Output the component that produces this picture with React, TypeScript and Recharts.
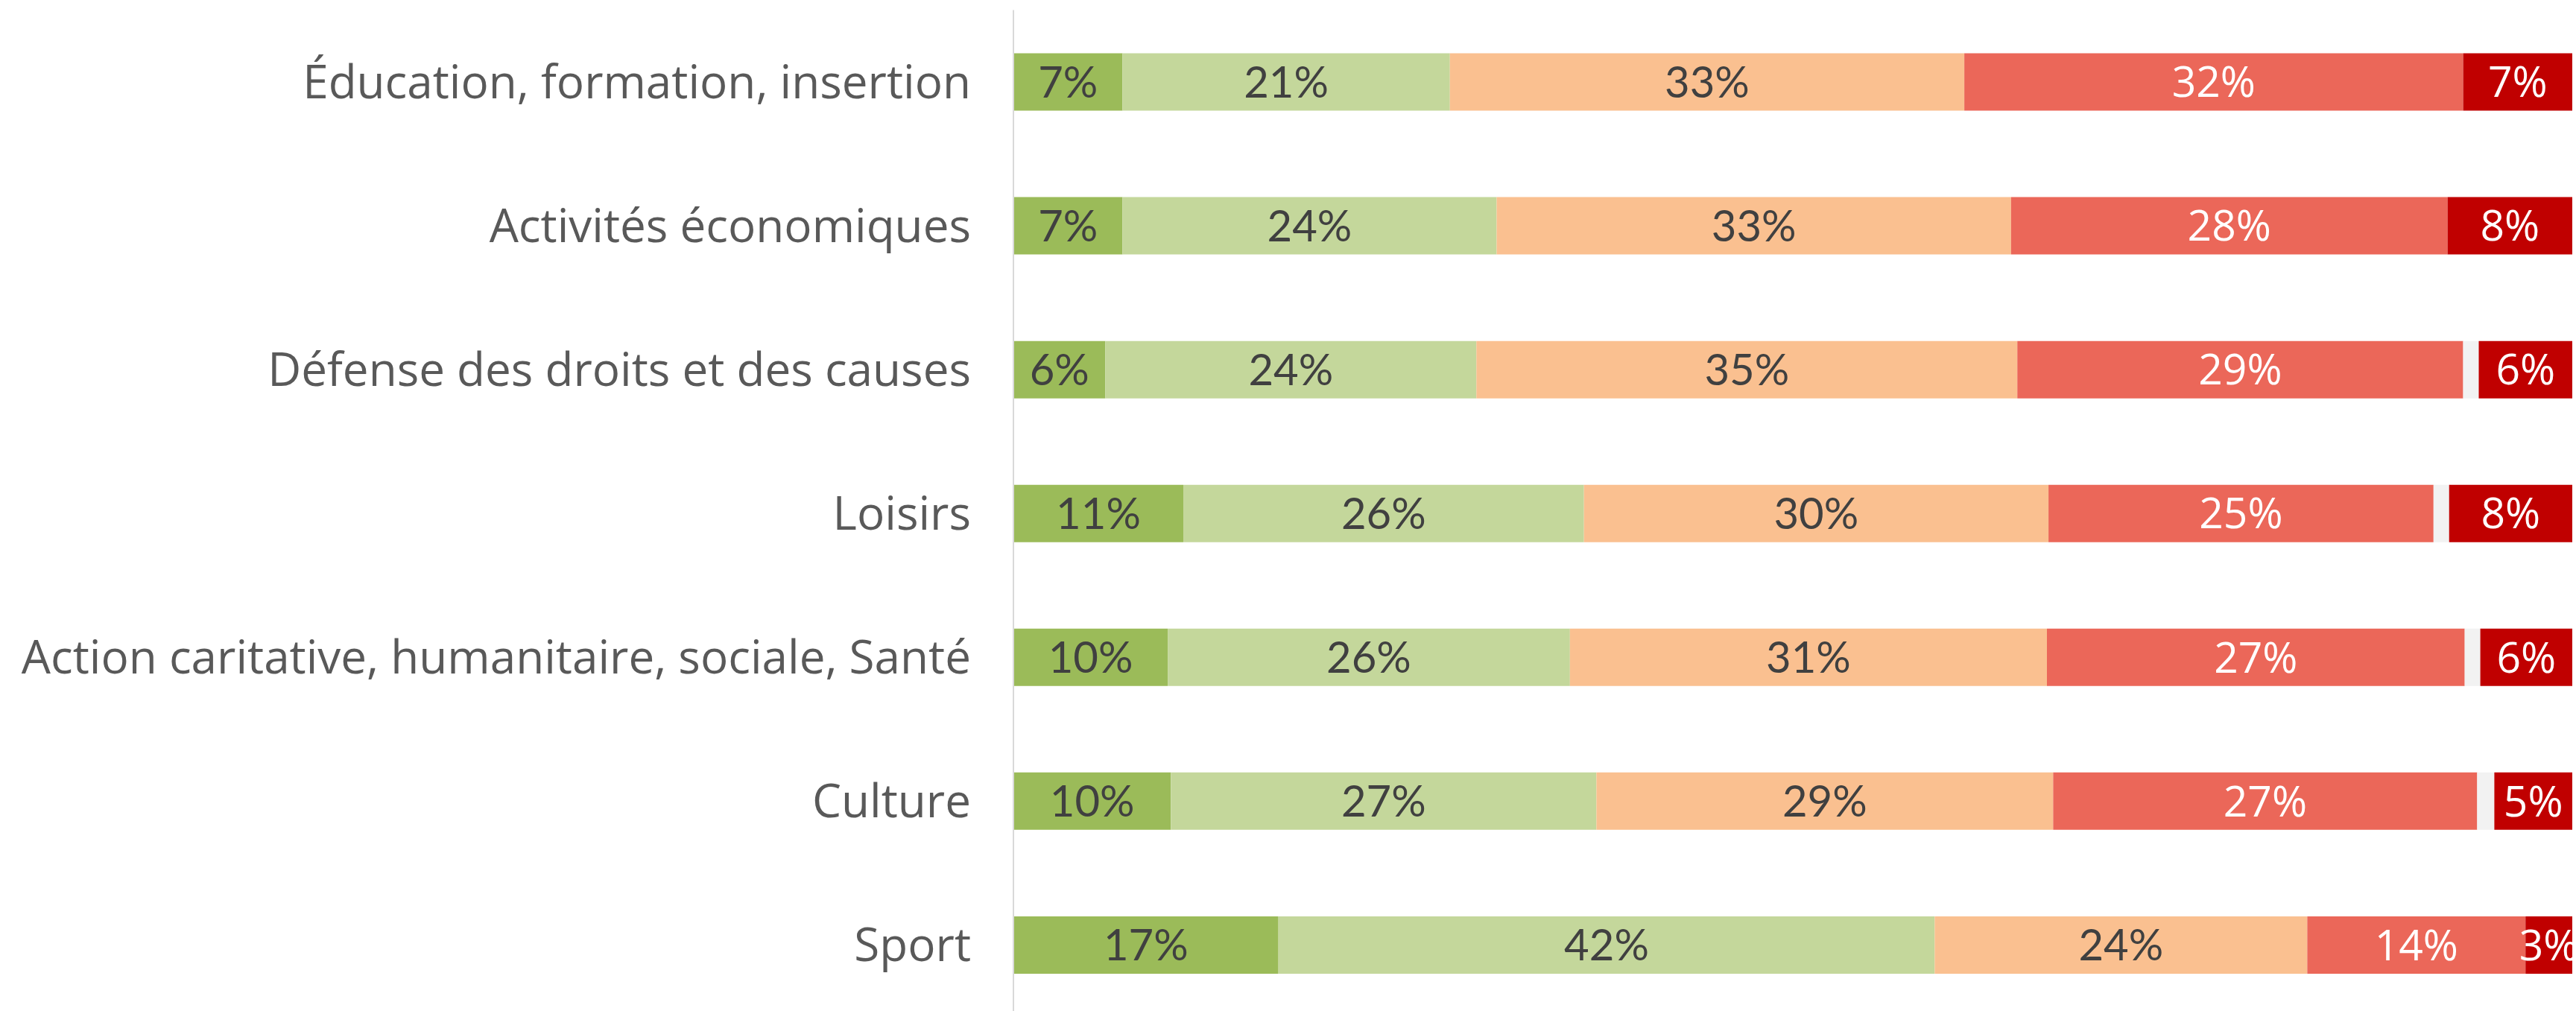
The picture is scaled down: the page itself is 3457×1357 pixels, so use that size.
import React from 'react';
import { BarChart, Bar, XAxis, YAxis, LabelList } from 'recharts';

const categories = [
  'Éducation, formation, insertion',
  'Activités économiques',
  'Défense des droits et des causes',
  'Loisirs',
  'Action caritative, humanitaire, sociale, Santé',
  'Culture',
  'Sport',
];
const s1 = [7.0, 7.0, 5.9, 10.9, 9.9, 10.1, 17.0];
const s2 = [21.0, 24.0, 23.8, 25.7, 25.8, 27.3, 42.1];
const s3 = [33.0, 33.0, 34.7, 29.8, 30.6, 29.3, 23.9];
const s4 = [32.0, 28.0, 28.6, 24.7, 26.8, 27.2, 14.0];
const gap = [0, 0, 1.0, 1.0, 1.0, 1.1, 0];
const s5 = [7.0, 8.0, 6.0, 7.9, 5.9, 5.0, 3.0];

const data = categories.map((name, i) => ({
  name,
  s1: s1[i],
  s2: s2[i],
  s3: s3[i],
  s4: s4[i],
  gap: gap[i],
  s5: s5[i],
}));

const fmt = (v: any) => `${Math.round(Number(v))}%`;

const darkLabel = { fill: '#404040', fontSize: 58, fontFamily: 'Lato' };
const whiteLabel = { fill: '#FFFFFF', fontSize: 57, fontFamily: 'Open Sans' };

export default function App() {
  return (
    <div style={{ position: 'fixed', left: 0, top: 0, background: '#fff' }}>
      <BarChart
        width={3457}
        height={1365}
        data={data}
        layout="vertical"
        margin={{ top: 13.5, right: 5, bottom: 0, left: 0 }}
        barSize={77}
      >
        <XAxis type="number" domain={[0, 100]} allowDataOverflow hide />
        <YAxis
          type="category"
          dataKey="name"
          width={1360}
          axisLine={{ stroke: '#D9D9D9', strokeWidth: 2 }}
          tickLine={false}
          tickSize={0}
          tickMargin={57}
          interval={0}
          tick={{ fill: '#595959', fontSize: 62, fontFamily: 'Open Sans' }}
        />
        <Bar dataKey="s1" stackId="a" fill="#9BBB59" isAnimationActive={false}>
          <LabelList dataKey="s1" position="center" formatter={fmt} {...darkLabel} />
        </Bar>
        <Bar dataKey="s2" stackId="a" fill="#C4D79B" isAnimationActive={false}>
          <LabelList dataKey="s2" position="center" formatter={fmt} {...darkLabel} />
        </Bar>
        <Bar dataKey="s3" stackId="a" fill="#FAC090" isAnimationActive={false}>
          <LabelList dataKey="s3" position="center" formatter={fmt} {...darkLabel} />
        </Bar>
        <Bar dataKey="s4" stackId="a" fill="#EB6759" isAnimationActive={false}>
          <LabelList dataKey="s4" position="center" formatter={fmt} {...whiteLabel} />
        </Bar>
        <Bar dataKey="gap" stackId="a" fill="#F2F2F2" isAnimationActive={false} />
        <Bar dataKey="s5" stackId="a" fill="#C00000" isAnimationActive={false}>
          <LabelList dataKey="s5" position="center" formatter={fmt} {...whiteLabel} />
        </Bar>
      </BarChart>
    </div>
  );
}
